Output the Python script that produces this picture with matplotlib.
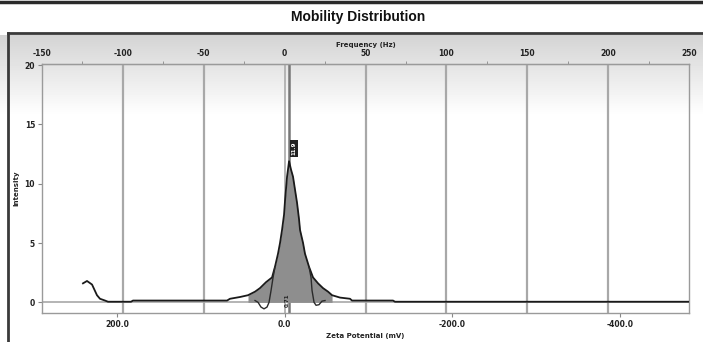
import matplotlib.pyplot as plt
import numpy as np

# zeta potential (mV) and intensity of the measured distribution
zeta = [240.6, 235.8, 229.8, 223.9, 220.3, 214.3, 210.7, 183.3, 180.9, 68.7, 65.2,
        53.2, 43.7, 35.3, 29.4, 22.2, 15.0, 11.5, 7.9, 5.5, 3.1, 0.7, -0.5, -1.7,
        -2.9, -5.3, -7.6, -10.0, -12.4, -14.8, -17.2, -18.4, -22.0, -24.3, -29.1,
        -33.9, -39.9, -45.8, -51.8, -56.6, -66.1, -78.0, -80.4, -129.3, -131.7, -482.6]
intensity = [1.6, 1.8, 1.5, 0.6, 0.3, 0.15, 0.05, 0.05, 0.15, 0.15, 0.3,
             0.45, 0.6, 0.9, 1.2, 1.7, 2.1, 3.0, 4.1, 5.0, 6.1, 7.4, 8.6, 9.6,
             10.6, 11.9, 11.2, 10.6, 9.5, 8.4, 7.0, 6.1, 5.0, 4.1, 3.0,
             2.1, 1.6, 1.2, 0.9, 0.6, 0.4, 0.3, 0.15, 0.15, 0.05, 0.05]

# second trace with the small dips either side of the peak
zeta2 = [35.3, 31.7, 28.2, 24.6, 21.0, 18.6, 16.2, 13.8, 11.5, np.nan,
         -29.1, -31.5, -32.7, -35.1, -37.5, -41.0, -44.6, -48.2]
intensity2 = [0.15, 0.0, -0.4, -0.55, -0.4, 0.0, 1.0, 2.1, 3.0, np.nan,
              3.0, 2.1, 1.0, 0.0, -0.25, -0.2, 0.1, 0.15]

freq_ticks = [-150, -100, -50, 0, 50, 100, 150, 200, 250]
zeta_ticks = [200, 0, -200, -400]
int_ticks = [0, 5, 10, 15, 20]
peak_zeta = -5.3

k = 1.93  # mV per Hz (zeta = -k * freq)

def z2f(z):
    return -np.asarray(z) / k

def f2z(f):
    return -np.asarray(f) * k

W, H = 703, 342
fig = plt.figure(figsize=(W / 100, H / 100), dpi=100)

# background gradient of the panel
bg = fig.add_axes([0, 0, 1, 1])
bg.set_xlim(0, W)
bg.set_ylim(H, 0)
bg.axis('off')
grad = np.ones((H, 2))
ys = np.arange(H)
g = np.clip((ys - 35) / 80.0, 0, 1)
grad[:, 0] = 0.83 + 0.17 * g
grad[:, 1] = grad[:, 0]
grad[:35] = 1.0
bg.imshow(grad, cmap='gray', vmin=0, vmax=1, extent=[0, W, H, 0], aspect='auto', zorder=0)
bg.plot([0, W], [2, 2], color='#2a2a2a', lw=2.5)
bg.plot([8, 8], [33, H], color='#3a3a3a', lw=2)
bg.plot([8, W], [33, 33], color='#3a3a3a', lw=2)
bg.text(358, 17, 'Mobility Distribution', ha='center', va='center',
        fontsize=10, color='#111111', fontweight='bold', family='Liberation Sans')

ax = fig.add_axes([42 / W, 1 - 313 / H, (689 - 42) / W, (313 - 64) / H])
ax.patch.set_alpha(0)
ax.set_xlim(f2z(-150), f2z(250))
ax.set_ylim(-0.9, 20.1)

for s in ax.spines.values():
    s.set_color('#9a9a9a')
    s.set_linewidth(1)

# vertical gridlines at frequency ticks
for f in freq_ticks[1:-1]:
    if f == 0:
        ax.axvline(f2z(f), color='#b0b0b0', lw=1.3, zorder=1)
    else:
        ax.axvline(f2z(f), color='#a8a8a8', lw=1.6, zorder=1)
ax.axvline(peak_zeta, color='#777777', lw=1.8, zorder=1)
ax.axhline(0, color='#a8a8a8', lw=1.2, zorder=1)

zz = np.array(zeta)
ii = np.array(intensity)
mask = (zz <= 44) & (zz >= -57)
ax.fill_between(zz[mask], 0, ii[mask], color='#8e8e8e', zorder=2, lw=0)
ax.plot(zeta, intensity, color='#1a1a1a', lw=1.3, zorder=3)
ax.plot(zeta2, intensity2, color='#2a2a2a', lw=1.0, zorder=3)

# peak markers
ax.text(-11, 13.0, '11.9', rotation=90, ha='center', va='center', fontsize=4,
        color='white', fontweight='bold',
        bbox=dict(boxstyle='square,pad=0.3', fc='#222222', ec='none'), zorder=4)
ax.text(-3, 0.2, '0.71', rotation=90, ha='center', va='center', fontsize=4,
        color='#222222', fontweight='bold', zorder=4)

tick_font = dict(fontsize=5.5, fontweight='bold', color='#222222')
ax.set_xticks(zeta_ticks)
ax.set_xticklabels(['%.1f' % v for v in zeta_ticks], **tick_font)
ax.set_yticks(int_ticks)
ax.set_yticklabels([str(v) for v in int_ticks], **tick_font)
ax.tick_params(axis='both', length=3, width=0.8, color='#888888', pad=2)
ax.set_xlabel('Zeta Potential (mV)', fontsize=5, fontweight='bold', color='#222222', labelpad=3)
ax.set_ylabel('Intensity', fontsize=5, fontweight='bold', color='#222222', labelpad=4)

top = ax.secondary_xaxis('top', functions=(z2f, f2z))
top.set_xticks(freq_ticks)
top.set_xticklabels([str(v) for v in freq_ticks], **tick_font)
top.set_xticks([-125, -75, -25, 25, 75, 125, 175, 225], minor=True)
top.tick_params(axis='x', which='major', length=0, pad=4)
top.tick_params(axis='x', which='minor', length=2, color='#888888')
top.spines['top'].set_color('#9a9a9a')
top.set_xlabel('Frequency (Hz)', fontsize=5, fontweight='bold', color='#222222', labelpad=2)

fig.savefig('out.png', dpi=100)
